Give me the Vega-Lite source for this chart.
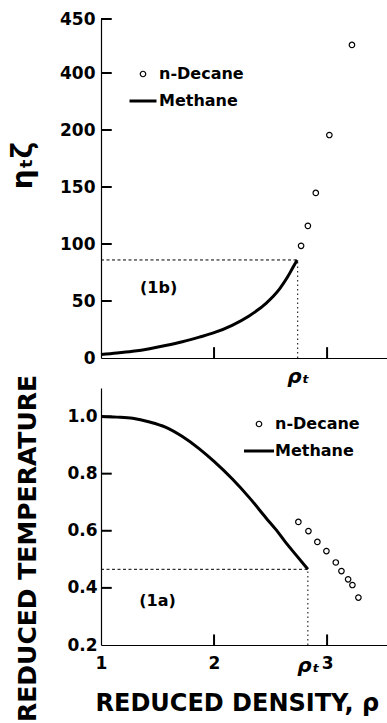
{
  "$schema": "https://vega.github.io/schema/vega-lite/v6.json",
  "padding": {"left": 9, "top": 10, "right": 0, "bottom": 0},
  "bounds": "flush",
  "spacing": 30,
  "datasets": {
    "methane_b": [
      {"series": "Methane", "rho": 1.0, "value": 3},
      {"series": "Methane", "rho": 1.14, "value": 4.3},
      {"series": "Methane", "rho": 1.28, "value": 5.9},
      {"series": "Methane", "rho": 1.43, "value": 8.2},
      {"series": "Methane", "rho": 1.57, "value": 10.9},
      {"series": "Methane", "rho": 1.72, "value": 14.2},
      {"series": "Methane", "rho": 1.87, "value": 18.3},
      {"series": "Methane", "rho": 2.0, "value": 22.2},
      {"series": "Methane", "rho": 2.16, "value": 28.7},
      {"series": "Methane", "rho": 2.31, "value": 36.9},
      {"series": "Methane", "rho": 2.46, "value": 48},
      {"series": "Methane", "rho": 2.58, "value": 60.7},
      {"series": "Methane", "rho": 2.65, "value": 71},
      {"series": "Methane", "rho": 2.69, "value": 78},
      {"series": "Methane", "rho": 2.735, "value": 86}
    ],
    "decane_b": [
      {"series": "n-Decane", "rho": 2.77, "value": 98.4},
      {"series": "n-Decane", "rho": 2.83, "value": 115.9},
      {"series": "n-Decane", "rho": 2.9, "value": 144.8},
      {"series": "n-Decane", "rho": 3.02, "value": 195.6},
      {"series": "n-Decane", "rho": 3.22, "value": 426}
    ],
    "methane_a": [
      {"series": "Methane", "rho": 1.0, "value": 1.0},
      {"series": "Methane", "rho": 1.14, "value": 0.998},
      {"series": "Methane", "rho": 1.28, "value": 0.994},
      {"series": "Methane", "rho": 1.43, "value": 0.981},
      {"series": "Methane", "rho": 1.57, "value": 0.963},
      {"series": "Methane", "rho": 1.72, "value": 0.93},
      {"series": "Methane", "rho": 1.87, "value": 0.887},
      {"series": "Methane", "rho": 2.0, "value": 0.843},
      {"series": "Methane", "rho": 2.16, "value": 0.782},
      {"series": "Methane", "rho": 2.31, "value": 0.717},
      {"series": "Methane", "rho": 2.46, "value": 0.645},
      {"series": "Methane", "rho": 2.55, "value": 0.603},
      {"series": "Methane", "rho": 2.63, "value": 0.561},
      {"series": "Methane", "rho": 2.73, "value": 0.513},
      {"series": "Methane", "rho": 2.83, "value": 0.465}
    ],
    "decane_a": [
      {"series": "n-Decane", "rho": 2.746, "value": 0.631},
      {"series": "n-Decane", "rho": 2.835, "value": 0.599},
      {"series": "n-Decane", "rho": 2.914, "value": 0.561},
      {"series": "n-Decane", "rho": 2.994, "value": 0.529},
      {"series": "n-Decane", "rho": 3.077, "value": 0.489},
      {"series": "n-Decane", "rho": 3.127, "value": 0.459},
      {"series": "n-Decane", "rho": 3.186, "value": 0.43},
      {"series": "n-Decane", "rho": 3.224, "value": 0.41},
      {"series": "n-Decane", "rho": 3.277, "value": 0.366}
    ],
    "xticks": [{"t": 2}, {"t": 3}],
    "yticks_b": [{"t": 50}, {"t": 100}, {"t": 150}, {"t": 200}, {"t": 400}, {"t": 450}],
    "yticks_a": [{"t": 0.4}, {"t": 0.6}, {"t": 0.8}, {"t": 1.0}]
  },
  "resolve": {
    "scale": {"x": "independent", "y": "independent", "color": "independent"},
    "legend": {"color": "independent"}
  },
  "vconcat": [
    {
      "width": 286,
      "height": 339,
      "layer": [
        {
          "data": {"name": "methane_b"},
          "mark": {"type": "line", "color": "black", "strokeWidth": 3, "interpolate": "monotone"},
          "encoding": {
            "x": {
              "field": "rho", "type": "quantitative",
              "scale": {"domain": [1, 3.53], "nice": false, "zero": false},
              "axis": {
                "title": null,
                "values": [2.74],
                "labelExpr": "'ρₜ'",
                "labelFontSize": 20,
                "labelFontStyle": "italic",
                "labelOverlap": false,
                "labelPadding": 8
              }
            },
            "y": {
              "field": "value", "type": "quantitative",
              "scale": {"domain": [0, 200, 400, 450], "range": [339, 111, 54, 0]},
              "axis": {
                "values": [0, 50, 100, 150, 200, 400, 450],
                "title": "ηₜζ",
                "titleFontSize": 28,
                "titleAngle": 270,
                "titleX": -70,
                "titleY": 146,
                "titleAlign": "center",
                "titleBaseline": "alphabetic",
                "labelOverlap": false,
                "labelFlush": false,
                "labelPadding": 6
              }
            },
            "color": {
              "field": "series", "type": "nominal",
              "scale": {"domain": ["n-Decane", "Methane"], "range": ["black", "black"]},
              "legend": {
                "orient": "none", "legendX": 34, "legendY": 47, "title": null,
                "symbolSize": 729, "labelFontSize": 16, "labelFont": "DejaVu Sans", "labelFontWeight": "bold",
                "labelOffset": 8, "rowPadding": 11, "padding": 0, "labelColor": "black",
                "encode": {"symbols": {"update": {
                  "shape": {"signal": "datum.value === 'Methane' ? 'stroke' : 'circle'"},
                  "size": {"signal": "datum.value === 'Methane' ? 729 : 30"},
                  "strokeWidth": {"signal": "datum.value === 'Methane' ? 3 : 1.2"},
                  "fill": {"value": "transparent"},
                  "stroke": {"value": "black"},
                  "opacity": {"value": 1}
                }}}
              }
            }
          }
        },
        {
          "data": {"name": "decane_b"},
          "mark": {"type": "point", "shape": "circle", "filled": false, "size": 30, "strokeWidth": 1.2, "opacity": 1},
          "encoding": {
            "x": {"field": "rho", "type": "quantitative"},
            "y": {"field": "value", "type": "quantitative"},
            "color": {"field": "series", "type": "nominal"}
          }
        },
        {
          "data": {"name": "xticks"},
          "mark": {"type": "rule", "color": "black", "strokeWidth": 2},
          "encoding": {"x": {"field": "t", "type": "quantitative"}, "y": {"datum": 0}, "y2": {"datum": 9.5}}
        },
        {
          "data": {"name": "yticks_b"},
          "mark": {"type": "rule", "color": "black", "strokeWidth": 2},
          "encoding": {"y": {"field": "t", "type": "quantitative"}, "x": {"datum": 1}, "x2": {"datum": 1.095}}
        },
        {
          "data": {"values": [{}]},
          "mark": {"type": "rule", "color": "black", "strokeWidth": 1, "strokeDash": [3, 2.5]},
          "encoding": {"x": {"datum": 1}, "x2": {"datum": 2.74}, "y": {"datum": 86}}
        },
        {
          "data": {"values": [{}]},
          "mark": {"type": "rule", "color": "black", "strokeWidth": 1, "strokeDash": [1.5, 3]},
          "encoding": {"x": {"datum": 2.74}, "y": {"datum": 0}, "y2": {"datum": 86}}
        },
        {
          "data": {"values": [{}]},
          "mark": {"type": "text", "text": "(1b)", "fontSize": 16, "font": "DejaVu Sans", "fontWeight": "bold", "color": "black"},
          "encoding": {"x": {"datum": 1.51}, "y": {"datum": 61}}
        }
      ]
    },
    {
      "width": 286,
      "height": 257,
      "layer": [
        {
          "data": {"name": "methane_a"},
          "mark": {"type": "line", "color": "black", "strokeWidth": 3, "interpolate": "monotone"},
          "encoding": {
            "x": {
              "field": "rho", "type": "quantitative",
              "scale": {"domain": [1, 3.53], "nice": false, "zero": false},
              "axis": {
                "title": "REDUCED DENSITY, ρ",
                "titleFontSize": 24,
                "titleAnchor": "start",
                "titleAlign": "left",
                "titleX": -6,
                "titleY": 65,
                "titleBaseline": "alphabetic",
                "values": [1, 2, 2.83, 3],
                "format": ".0f",
                "labelExpr": "abs(datum.value - 2.83) < 0.001 ? 'ρₜ' : datum.label",
                "labelFontSize": {"condition": {"test": "abs(datum.value - 2.83) < 0.001", "value": 20}, "value": 17},
                "labelFontStyle": {"condition": {"test": "abs(datum.value - 2.83) < 0.001", "value": "italic"}, "value": "normal"},
                "labelOverlap": false,
                "labelFlush": false,
                "labelPadding": 10
              }
            },
            "y": {
              "field": "value", "type": "quantitative",
              "scale": {"domain": [0.2, 1.1], "nice": false, "zero": false},
              "axis": {
                "values": [0.2, 0.4, 0.6, 0.8, 1.0],
                "format": ".1f",
                "title": "REDUCED TEMPERATURE",
                "titleFontSize": 25,
                "titleAngle": 270,
                "titleX": -66,
                "titleY": 160,
                "titleAlign": "center",
                "titleBaseline": "alphabetic",
                "labelOverlap": false,
                "labelFlush": false,
                "labelPadding": 4
              }
            },
            "color": {
              "field": "series", "type": "nominal",
              "scale": {"domain": ["n-Decane", "Methane"], "range": ["black", "black"]},
              "legend": {
                "orient": "none", "legendX": 150, "legendY": 28, "title": null,
                "symbolSize": 900, "labelFontSize": 16, "labelFont": "DejaVu Sans", "labelFontWeight": "bold",
                "labelOffset": 8, "rowPadding": 11, "padding": 0, "labelColor": "black",
                "encode": {"symbols": {"update": {
                  "shape": {"signal": "datum.value === 'Methane' ? 'stroke' : 'circle'"},
                  "size": {"signal": "datum.value === 'Methane' ? 900 : 30"},
                  "strokeWidth": {"signal": "datum.value === 'Methane' ? 3 : 1.2"},
                  "fill": {"value": "transparent"},
                  "stroke": {"value": "black"},
                  "opacity": {"value": 1}
                }}}
              }
            }
          }
        },
        {
          "data": {"name": "decane_a"},
          "mark": {"type": "point", "shape": "circle", "filled": false, "size": 30, "strokeWidth": 1.2, "opacity": 1},
          "encoding": {
            "x": {"field": "rho", "type": "quantitative"},
            "y": {"field": "value", "type": "quantitative"},
            "color": {"field": "series", "type": "nominal"}
          }
        },
        {
          "data": {"name": "xticks"},
          "mark": {"type": "rule", "color": "black", "strokeWidth": 2},
          "encoding": {"x": {"field": "t", "type": "quantitative"}, "y": {"datum": 0.2}, "y2": {"datum": 0.237}}
        },
        {
          "data": {"name": "yticks_a"},
          "mark": {"type": "rule", "color": "black", "strokeWidth": 2},
          "encoding": {"y": {"field": "t", "type": "quantitative"}, "x": {"datum": 1}, "x2": {"datum": 1.095}}
        },
        {
          "data": {"values": [{}]},
          "mark": {"type": "rule", "color": "black", "strokeWidth": 1, "strokeDash": [3, 2.5]},
          "encoding": {"x": {"datum": 1}, "x2": {"datum": 2.83}, "y": {"datum": 0.465}}
        },
        {
          "data": {"values": [{}]},
          "mark": {"type": "rule", "color": "black", "strokeWidth": 1, "strokeDash": [1.5, 3]},
          "encoding": {"x": {"datum": 2.83}, "y": {"datum": 0.2}, "y2": {"datum": 0.465}}
        },
        {
          "data": {"values": [{}]},
          "mark": {"type": "text", "text": "(1a)", "fontSize": 16, "font": "DejaVu Sans", "fontWeight": "bold", "color": "black"},
          "encoding": {"x": {"datum": 1.5}, "y": {"datum": 0.353}}
        }
      ]
    }
  ],
  "config": {
    "view": {"stroke": null},
    "axis": {
      "grid": false,
      "ticks": false,
      "domainColor": "black",
      "domainWidth": 1.2,
      "labelColor": "black",
      "titleColor": "black",
      "labelFont": "DejaVu Sans",
      "labelFontWeight": "bold",
      "labelFontSize": 17,
      "titleFont": "DejaVu Sans",
      "titleFontWeight": "bold"
    }
  }
}
